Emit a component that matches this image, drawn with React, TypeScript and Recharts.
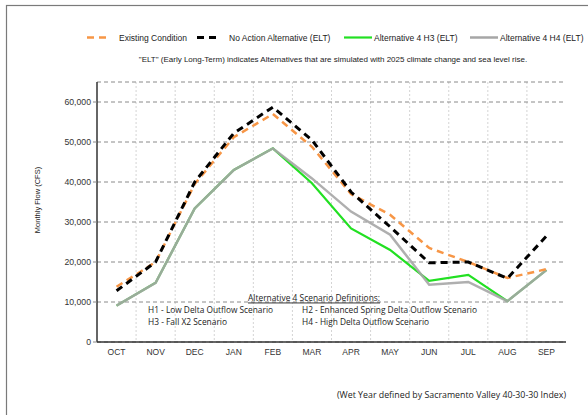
import React from 'react';
import { LineChart, Line, XAxis, YAxis, CartesianGrid } from 'recharts';

const months = ['OCT', 'NOV', 'DEC', 'JAN', 'FEB', 'MAR', 'APR', 'MAY', 'JUN', 'JUL', 'AUG', 'SEP'];
const existingCondition = [13800, 20000, 39500, 51200, 57000, 48800, 37000, 31800, 23500, 20000, 16000, 18200];
const noActionELT = [12800, 20000, 40000, 52200, 58700, 50500, 37500, 28800, 19800, 20000, 15900, 26500];
const alt4H3 = [9100, 14800, 33400, 43000, 48400, 39700, 28400, 23000, 15300, 16800, 10200, 18000];
const alt4H4 = [9100, 14800, 33400, 43000, 48400, 40900, 32600, 26800, 14300, 15000, 10200, 18000];
const yTicks = [0, 10000, 20000, 30000, 40000, 50000, 60000];

const seriesNames = ['Existing Condition', 'No Action Alternative (ELT)', 'Alternative 4 H3 (ELT)', 'Alternative 4 H4 (ELT)'];
const subtitle = '"ELT" (Early Long-Term) indicates Alternatives that are simulated with 2025 climate change and sea level rise.';
const yLabel = 'Monthly Flow (CFS)';
const defTitle = 'Alternative 4 Scenario Definitions:';
const defLines = [
  'H1 - Low Delta Outflow Scenario',
  'H2 - Enhanced Spring Delta Outflow Scenario',
  'H3 - Fall X2 Scenario',
  'H4 - High Delta Outflow Scenario',
];
const footNote = '(Wet Year defined by Sacramento Valley 40-30-30 Index)';

const data = months.map((m, i) => ({
  m,
  existing: existingCondition[i],
  noAction: noActionELT[i],
  h3: alt4H3[i],
  h4: alt4H4[i],
}));

const styles = [
  { key: 'existing', color: '#F79646', width: 2.5, dash: '7 5' },
  { key: 'noAction', color: '#000000', width: 3, dash: '7 5' },
  { key: 'h3', color: '#22E022', width: 2.2, dash: undefined },
  { key: 'h4', color: '#A6A6A6', width: 2.5, dash: undefined },
];

const legendLayout = [
  { x: 87, w: 20, tx: 119 },
  { x: 197, w: 22, tx: 229 },
  { x: 344, w: 28, tx: 374 },
  { x: 470, w: 28, tx: 500 },
];

const sans = '"Liberation Sans", Arial, sans-serif';
const cal = '"Open Sans", "Noto Sans", sans-serif';

export default function App() {
  return (
    <div style={{ position: 'absolute', left: 0, top: 0, width: 588, height: 415, background: '#fff', overflow: 'hidden' }}>
      <LineChart width={588} height={415} data={data} margin={{ top: 82, right: 22, bottom: 53, left: 0 }}>
        <CartesianGrid
          horizontal={false}
          vertical
          stroke="#d4d4d4"
          strokeDasharray="2 2"
          verticalCoordinatesGenerator={({ offset }: any) =>
            Array.from({ length: 11 }, (_, i) => offset.left + ((i + 1) * offset.width) / 12)
          }
        />
        <CartesianGrid vertical={false} stroke="#8a8a8a" strokeDasharray="4 3" />
        <XAxis
          dataKey="m"
          scale="band"
          tickLine={false}
          tickSize={5}
          tickMargin={2}
          axisLine={{ stroke: '#333', strokeWidth: 1.5 }}
          tick={{ fill: '#333', fontSize: 8.5, fontFamily: sans }}
          height={20}
        />
        <XAxis xAxisId="top" dataKey="m" scale="band" orientation="top" height={0} tick={false} tickLine={false} axisLine={{ stroke: '#8a8a8a' }} />
        <YAxis
          width={97}
          domain={[0, 65000]}
          ticks={yTicks}
          tickSize={4}
          tickMargin={2}
          tickLine={{ stroke: '#888' }}
          axisLine={{ stroke: '#333', strokeWidth: 1.5 }}
          tick={{ fill: '#333', fontSize: 8.7, fontFamily: sans }}
          tickFormatter={(v: number) => v.toLocaleString('en-US')}
        />
        <YAxis yAxisId="right" orientation="right" width={0} domain={[0, 65000]} tick={false} tickLine={false} axisLine={{ stroke: '#8a8a8a' }} />
        <Line dataKey="h3" stroke={styles[2].color} strokeWidth={styles[2].width} dot={false} isAnimationActive={false} />
        <Line dataKey="h4" stroke={styles[3].color} strokeWidth={styles[3].width} strokeOpacity={0.9} dot={false} isAnimationActive={false} />
        <Line dataKey="existing" stroke={styles[0].color} strokeWidth={styles[0].width} strokeDasharray={styles[0].dash} dot={false} isAnimationActive={false} />
        <Line dataKey="noAction" stroke={styles[1].color} strokeWidth={styles[1].width} strokeDasharray={styles[1].dash} dot={false} isAnimationActive={false} />
      </LineChart>
      <svg width={588} height={415} style={{ position: 'absolute', left: 0, top: 0, pointerEvents: 'none' }}>
        <rect x={6.5} y={5.5} width={620} height={440} fill="none" stroke="#7a7a7a" strokeWidth={1.2} />
        {seriesNames.map((name, i) => (
          <g key={name}>
            <line
              x1={legendLayout[i].x}
              x2={legendLayout[i].x + legendLayout[i].w}
              y1={37.5}
              y2={37.5}
              stroke={styles[i].color}
              strokeWidth={styles[i].width}
              strokeDasharray={styles[i].dash}
            />
            <text x={legendLayout[i].tx} y={37.5} dominantBaseline="central" fontSize={8.5} fontFamily={sans} fill="#222">
              {name}
            </text>
          </g>
        ))}
        <text x={333} y={59} textAnchor="middle" dominantBaseline="central" fontSize={8} fontFamily={sans} fill="#222">
          {subtitle}
        </text>
        <text
          transform="translate(37,200) rotate(-90)"
          textAnchor="middle"
          dominantBaseline="central"
          fontSize={7.5}
          fontFamily={sans}
          fill="#222"
        >
          {yLabel}
        </text>
        <text x={248} y={297} dominantBaseline="central" fontSize={9} fontFamily={cal} fill="#222" textDecoration="underline" textLength={132} lengthAdjust="spacingAndGlyphs">
          {defTitle}
        </text>
        <text x={148} y={309} dominantBaseline="central" fontSize={9} fontFamily={cal} fill="#222" textLength={125} lengthAdjust="spacingAndGlyphs">
          {defLines[0]}
        </text>
        <text x={302} y={309} dominantBaseline="central" fontSize={9} fontFamily={cal} fill="#222" textLength={175} lengthAdjust="spacingAndGlyphs">
          {defLines[1]}
        </text>
        <text x={148} y={321} dominantBaseline="central" fontSize={9} fontFamily={cal} fill="#222" textLength={79} lengthAdjust="spacingAndGlyphs">
          {defLines[2]}
        </text>
        <text x={302} y={321} dominantBaseline="central" fontSize={9} fontFamily={cal} fill="#222" textLength={127} lengthAdjust="spacingAndGlyphs">
          {defLines[3]}
        </text>
        <text x={337} y={394} dominantBaseline="central" fontSize={9.5} fontFamily={cal} fill="#222" textLength={229} lengthAdjust="spacingAndGlyphs">
          {footNote}
        </text>
      </svg>
    </div>
  );
}
